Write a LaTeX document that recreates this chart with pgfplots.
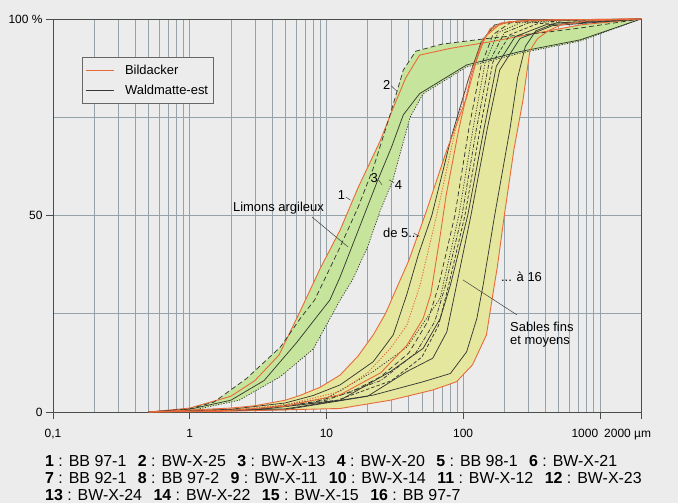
\documentclass[border=0pt]{standalone}
\usepackage{fontspec}
\setmainfont{Liberation Sans}
\usepackage{pgfplots}
\pgfplotsset{compat=1.18}
\usepgfplotslibrary{fillbetween}

\definecolor{bg}{RGB}{236,236,236}
\definecolor{bandgreen}{RGB}{198,228,156}
\definecolor{bandyellow}{RGB}{230,231,158}
\definecolor{bild}{RGB}{232,106,58}
\definecolor{wald}{RGB}{55,58,52}
\definecolor{gridc}{RGB}{150,162,170}

\tikzset{
  bild/.style={color=bild, line width=0.9bp},
  wald/.style={color=wald, line width=0.75bp},
  dashA/.style={dash pattern=on 5bp off 3bp},
  dashB/.style={dash pattern=on 3.5bp off 2bp},
  dotA/.style={dash pattern=on 1.2bp off 1.5bp},
  dashdot/.style={dash pattern=on 4bp off 1.5bp on 1bp off 1.5bp},
}
\newcommand\lblfont{\fontsize{13}{13}\selectfont}
\newcommand\ent[2]{\textbf{#1} : #2}
\newcommand\gap{\hspace{11.5bp}}

\begin{document}
\begin{tikzpicture}
\begin{axis}[
  set layers,
  at={(53bp,91bp)}, anchor=south west,
  scale only axis, width=588bp, height=393bp,
  xmode=log, xmin=0.1, xmax=2000, ymin=0, ymax=100,
  clip=false,
  axis line style={draw=black!70, line width=0.8bp},
  xtick={0.1,1,10,100,1000,2000}, xticklabels={},
  minor xtick={0.2,0.3,0.4,0.5,0.6,0.7,0.8,0.9,2,3,4,5,6,7,8,9,20,30,40,50,60,70,80,90,200,300,400,500,600,700,800,900},
  xmajorgrids, xminorgrids,
  major grid style={gridc, line width=0.5bp},
  minor grid style={gridc, line width=0.5bp},
  ytick={0,50,100}, yticklabels={0,50,100 \%},
  extra y ticks={25,75}, extra y tick labels={},
  extra y tick style={major tick length=0pt},
  ymajorgrids,
  tick pos=left, tick align=outside,
  major tick length=7bp, minor tick length=0pt,
  tick style={black!70, line width=0.6bp},
  ticklabel style={font=\fontsize{12}{14}\selectfont},
  /pgf/number format/assume math mode=true,
  legend style={at={(0.0493,0.903)}, anchor=north west, draw=black!60,
    fill=bg, font=\lblfont, inner xsep=3bp, inner ysep=5.5bp, row sep=5bp,
    /tikz/every odd column/.append style={column sep=9bp}},
  legend cell align=left,
  legend image code/.code={\draw[#1] (0bp,0bp) -- (28bp,0bp);},
]
% page background behind everything
\begin{pgfonlayer}{axis background}
  \fill[bg] (rel axis cs:-0.0901,-0.2316) rectangle (rel axis cs:1.0629,1.0483);
\end{pgfonlayer}

\addlegendimage{bild}
\addlegendentry{Bildacker}
\addlegendimage{wald}
\addlegendentry{Waldmatte-est\hspace{7bp}}

% ---- limons argileux (1-4)
\addplot[bild, name path=c1, forget plot] coordinates {
 (0.5,0)(1,1)(2,4)(3,8)(4.5,14.5)(6.5,26)(9,36.5)(12.6,46.3)(17,57)(24.6,68.8)(30.5,77)(38,85)(48,90.8)(80,92.5)(158,94.2)(345,96.4)(720,98.5)(2000,100)};
\addplot[wald, dashA, name path=c2, forget plot] coordinates {
 (0.5,0)(1,0.8)(1.5,2.5)(2.6,8.5)(4.6,16.5)(6.5,24)(8.2,28.5)(12.6,42)(17,52)(22,62)(29.2,75.6)(36.5,87)(45,91.8)(70,93.6)(147,95)(400,96.6)(720,97.7)(2000,100)};
\addplot[wald, name path=c3, forget plot] coordinates {
 (0.5,0)(1,0.7)(2,3)(3.5,8)(6,17.5)(10.6,28.5)(12.6,34.4)(17,46)(23.5,58.6)(30,67.5)(36.5,75.6)(48,81)(106,88.3)(260,91.7)(720,94.7)(2000,100)};
\addplot[wald, dotA, name path=c4, forget plot] coordinates {
 (0.5,0)(1,0.3)(2.3,3)(4.6,9)(8,16)(12.6,28.5)(15.5,33.6)(20,42)(24.6,51)(30.6,59)(40.9,75)(51,81)(106,87.8)(260,91.3)(720,94.4)(2000,100)};

% ---- sables fins et moyens (5-16)
\addplot[wald, name path=c6, forget plot] coordinates {
 (0.5,0)(2,0.7)(5,2.3)(8,4.2)(12.6,6.9)(22,12.8)(30.8,19.6)(38.8,30)(47,40)(59,50)(82,70)(110,85)(135,94)(170,98.5)(250,99.5)(2000,100)};
\addplot[wald, dashA, forget plot] coordinates {
 (0.5,0)(3,0.8)(8,2.5)(15,5)(25,9)(40,15)(55,23)(66,32)(87,50)(110,72)(135,88)(165,96)(220,99)(400,99.7)(2000,100)};
\addplot[wald, dotA, forget plot] coordinates {
 (0.5,0)(3,0.7)(10,3.5)(22,10.3)(38.8,16.5)(54,23.8)(68,29)(72,33)(93,50)(118,72)(145,89)(180,96.5)(260,99)(500,99.7)(2000,100)};
\addplot[wald, dashdot, forget plot] coordinates {
 (0.5,0)(3,0.6)(10,3)(25,8)(45,15)(62,23)(74,32)(98,50)(125,72)(155,89)(200,96.5)(300,99)(600,99.6)(2000,100)};
\addplot[wald, dashB, forget plot] coordinates {
 (0.5,0)(3,0.5)(12,3)(30,8)(50,14)(66,22)(78,32)(103,50)(133,72)(165,89)(220,96)(350,98.8)(2000,100)};
\addplot[wald, forget plot] coordinates {
 (0.5,0)(3,0.5)(12.6,3)(29.4,10.3)(51,16.2)(68,23.8)(80.7,32.3)(108,50)(142,72)(175,88)(240,95.5)(400,98.5)(2000,100)};
\addplot[wald, forget plot] coordinates {
 (0.5,0)(5,0.6)(20,4)(38.8,10.3)(60,13.7)(76,20.4)(89.5,32.3)(114,50)(150,72)(185,87)(260,95)(450,98.3)(2000,100)};
\addplot[wald, forget plot] coordinates {
 (0.5,0)(5,0.8)(22,4.3)(51,7.7)(80.7,9.8)(106,15.3)(126,23.8)(140,32.3)(170,50)(220,72)(250,85)(285,93)(340,97)(480,99)(2000,100)};
\addplot[bild, forget plot] coordinates {
 (0.5,0)(2,0.4)(5,1.5)(12.6,4.4)(25,10)(38.8,17)(51,23.8)(58,30)(68,45)(75,55)(93,72)(115,86)(145,95.5)(190,99)(300,99.7)(2000,100)};
\addplot[bild, dotA, forget plot] coordinates {
 (0.5,0)(2,0.5)(5,1.8)(12.6,5.2)(20,10)(29.4,16.2)(38.8,22.1)(48.4,32.3)(64,50)(88,72)(110,85)(140,95)(180,98.8)(300,99.6)(2000,100)};
\addplot[bild, name path=c5, forget plot] coordinates {
 (0.5,0)(1,0.5)(2,1)(3,1.6)(5,3)(6.4,4.2)(9,6.3)(12.6,9.4)(17,14.2)(22,19.6)(27,25)(32.6,31.5)(40,38.5)(52.5,50)(76,66.7)(106,80)(132,92.5)(158,97.6)(214,99.3)(500,99.8)(2000,100)};
\addplot[bild, name path=c16, forget plot] coordinates {
 (0.5,0)(2,0.2)(12.6,0.9)(29.4,3)(60,5.6)(89.5,7.7)(117,12)(148,19.6)(165,30)(178,37)(200,50)(235,66.7)(274,79.4)(308,92)(350,95)(420,97)(520,98.5)(800,99.5)(2000,100)};

% shaded bands, kept behind the grid
\addplot[fill=bandyellow, draw=none, on layer=axis background, forget plot] fill between[of=c5 and c16];
\addplot[fill=bandgreen, draw=none, on layer=axis background, forget plot] fill between[of=c1 and c4];
\addplot[fill=bandgreen, draw=none, on layer=axis background, forget plot] fill between[of=c2 and c1];

% labels of the curves
\begin{scope}[font=\lblfont, inner sep=0pt]
\node[anchor=base west] at (axis cs:2.07,51.1) {Limons argileux};
\draw[black!75, line width=0.5bp] (axis cs:7.85,49.6) -- (axis cs:14.4,42);
\node at (axis cs:12.9,55.2) {1};
\draw[black!75, line width=0.5bp] (axis cs:13.9,54.7) -- (axis cs:15,53.9);
\node at (axis cs:27.6,83.2) {2};
\draw[black!75, line width=0.5bp] (axis cs:29.8,83.0) -- (axis cs:32.6,81.7);
\node at (axis cs:22.4,59.5) {3};
\draw[black!75, line width=0.5bp] (axis cs:24,59.1) -- (axis cs:25.5,57.8);
\node at (axis cs:33.6,57.8) {4};
\draw[black!75, line width=0.5bp] (axis cs:28.7,59.1) -- (axis cs:31.2,58.3);
\node[anchor=base west] at (axis cs:25.9,44.5) {de 5...};
\draw[black!75, line width=0.5bp] (axis cs:43.5,45.5) -- (axis cs:48,44.7);
\node[anchor=base west] at (axis cs:189,33.3) {... à 16};
\node[anchor=base west] at (axis cs:220,20.5) {Sables fins};
\node[anchor=base west] at (axis cs:220,17.2) {et moyens};
\draw[black!75, line width=0.5bp] (axis cs:99.8,33.6) -- (axis cs:247.7,24.7);
\end{scope}

% x tick labels
\begin{scope}[font=\fontsize{12}{14}\selectfont, inner sep=0pt]
\node[anchor=base, yshift=-25bp] at (axis cs:0.1,0) {0,1};
\node[anchor=base, yshift=-25bp] at (axis cs:1,0) {1};
\node[anchor=base, yshift=-25bp] at (axis cs:10,0) {10};
\node[anchor=base, yshift=-25bp] at (axis cs:100,0) {100};
\node[anchor=base, yshift=-25bp, xshift=-15bp] at (axis cs:1000,0) {1000};
\node[anchor=base west, yshift=-25bp, xshift=-37bp] at (axis cs:2000,0) {2000 µm};
\end{scope}

% sample list
\begin{scope}[font=\fontsize{16}{18}\selectfont, inner sep=0pt]
\node[anchor=base west, xshift=-8bp, yshift=-54bp] at (rel axis cs:0,0)
 {\ent{1}{BB 97-1}\gap\ent{2}{BW-X-25}\gap\ent{3}{BW-X-13}\gap\ent{4}{BW-X-20}\gap\ent{5}{BB 98-1}\gap\ent{6}{BW-X-21}};
\node[anchor=base west, xshift=-8bp, yshift=-71.5bp] at (rel axis cs:0,0)
 {\ent{7}{BB 92-1}\gap\ent{8}{BB 97-2}\gap\ent{9}{BW-X-11}\gap\ent{10}{BW-X-14}\gap\ent{11}{BW-X-12}\gap\ent{12}{BW-X-23}};
\node[anchor=base west, xshift=-8bp, yshift=-88.5bp] at (rel axis cs:0,0)
 {\ent{13}{BW-X-24}\gap\ent{14}{BW-X-22}\gap\ent{15}{BW-X-15}\gap\ent{16}{BB 97-7}};
\end{scope}
\end{axis}
\end{tikzpicture}
\end{document}
